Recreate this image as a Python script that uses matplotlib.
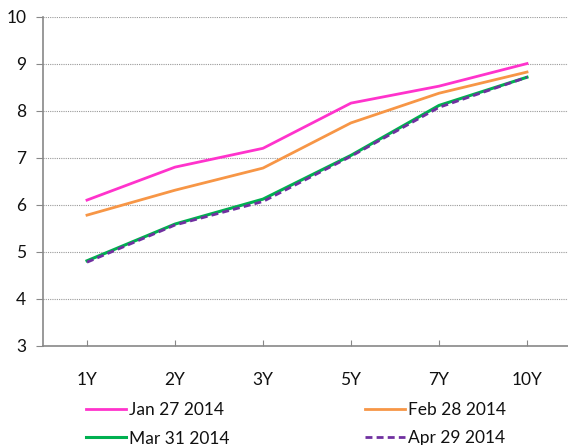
import matplotlib.pyplot as plt

plt.rcParams['font.family'] = ['Lato', 'DejaVu Sans']

tenors = ['1Y', '2Y', '3Y', '5Y', '7Y', '10Y']
jan27 = [6.10, 6.80, 7.20, 8.16, 8.52, 9.00]
feb28 = [5.78, 6.31, 6.78, 7.74, 8.37, 8.82]
mar31 = [4.81, 5.59, 6.12, 7.05, 8.11, 8.71]
apr29 = [4.78, 5.57, 6.07, 7.03, 8.07, 8.71]

fig = plt.figure(figsize=(5.68, 4.45), dpi=100)
# axes spans x 43..571 px, y 16.5..346 px
ax = fig.add_axes([43 / 568, 1 - 346 / 445, 528 / 568, (346 - 16.5) / 445])

x = range(len(tenors))
l1, = ax.plot(x, jan27, color='#FF33CC', lw=2, label='Jan 27 2014')
l2, = ax.plot(x, feb28, color='#F79646', lw=2, label='Feb 28 2014')
l3, = ax.plot(x, mar31, color='#00B050', lw=2.2, label='Mar 31 2014')
l4, = ax.plot(x, apr29, color='#7030A0', lw=2, ls=(0, (2.5, 1.5)), label='Apr 29 2014')

ax.set_xlim(-0.5, 5.5)
ax.set_ylim(3, 10)
ax.set_xticks(list(x))
ax.set_xticklabels(tenors)
ax.set_yticks(range(3, 11))

ax.yaxis.grid(True, color='#999999', ls=(0, (1, 1)), lw=0.8)
ax.set_axisbelow(True)
for s in ['top', 'right']:
    ax.spines[s].set_visible(False)
for s in ['left', 'bottom']:
    ax.spines[s].set_color('#888888')
    ax.spines[s].set_linewidth(1.2)

ax.tick_params(axis='y', direction='out', length=5, color='#888888', labelsize=12.5,
               pad=7, labelcolor='#111111')
ax.tick_params(axis='x', direction='in', length=4, color='#888888', labelsize=12.5,
               pad=19, labelcolor='#111111')

kw = dict(frameon=False, fontsize=12.5, handlelength=2.3, handletextpad=0.2,
          labelspacing=0.72, borderaxespad=0, borderpad=0, loc='upper left')
leg1 = fig.legend(handles=[l1, l3], bbox_to_anchor=(86 / 568, 1 - 402 / 445), **kw)
leg2 = fig.legend(handles=[l2, l4], bbox_to_anchor=(365 / 568, 1 - 402 / 445), **kw)
for leg in (leg1, leg2):
    for t in leg.get_texts():
        t.set_color('#111111')

fig.savefig('out.png', dpi=100)
